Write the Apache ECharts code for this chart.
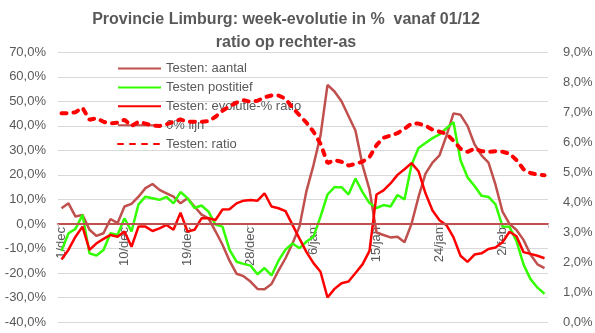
<!DOCTYPE html>
<html>
<head>
<meta charset="utf-8">
<script src="https://cdn.jsdelivr.net/npm/echarts@6/dist/echarts.min.js"></script>
<style>
html,body{margin:0;padding:0;background:#fff;}
#chart{width:595px;height:333px;}
</style>
</head>
<body>
<div id="chart"></div>
<script>
var categories = [
"1/dec","2/dec","3/dec","4/dec","5/dec","6/dec","7/dec","8/dec","9/dec","10/dec",
"11/dec","12/dec","13/dec","14/dec","15/dec","16/dec","17/dec","18/dec","19/dec","20/dec",
"21/dec","22/dec","23/dec","24/dec","25/dec","26/dec","27/dec","28/dec","29/dec","30/dec",
"31/dec","1/jan","2/jan","3/jan","4/jan","5/jan","6/jan","7/jan","8/jan","9/jan",
"10/jan","11/jan","12/jan","13/jan","14/jan","15/jan","16/jan","17/jan","18/jan","19/jan",
"20/jan","21/jan","22/jan","23/jan","24/jan","25/jan","26/jan","27/jan","28/jan","29/jan",
"30/jan","31/jan","1/feb","2/feb","3/feb","4/feb","5/feb","6/feb","7/feb","8/feb"
];
var testenAantal = [
6.4, 8.4, 3.0, 3.7, -2.4, -4.9, -3.8, 2.0, 0.3, 7.1,
8.2, 11.1, 14.6, 16.3, 13.9, 12.5, 11.1, 8.4, 10.5, 7.1,
3.8, 2.3, -3.0, -8.5, -15.0, -20.3, -21.3, -23.5, -26.5, -26.6,
-24.5, -19.0, -14.0, -8.0, -1.0, 13.5, 24.0, 36.0, 56.7, 54.0,
50.0, 44.0, 38.0, 24.0, 14.0, -3.5, -4.5, -5.5, -5.2, -7.5,
0.0, 11.0, 20.5, 25.0, 28.0, 36.0, 45.1, 44.5, 40.0, 32.5,
28.0, 25.0, 16.0, 5.0, 0.0, -2.5, -6.5, -12.5, -16.5, -18.0
];
var testenPositief = [
-11.0, -3.8, -2.0, 3.7, -12.0, -12.9, -10.6, -3.8, -4.5, 2.3,
-3.1, 8.0, 11.1, 10.5, 9.8, 11.0, 8.4, 13.0, 10.5, 6.5,
7.5, 5.0, -0.3, -1.1, -10.5, -15.4, -16.3, -17.0, -20.5, -18.0,
-21.0, -15.0, -10.5, -8.0, -9.9, -7.2, -5.2, 3.0, 12.0, 15.0,
15.0, 12.0, 18.5, 13.0, 8.5, 6.5, 7.7, 7.1, 11.8, 10.0,
24.0, 31.0, 33.0, 35.0, 36.5, 39.0, 41.5, 26.0, 19.0, 15.5,
11.5, 11.0, 8.0, -1.0, -1.2, -7.0, -16.5, -22.5, -26.0, -28.5
];
var evolutieRatio = [
-14.5, -10.5, -5.2, -1.1, -10.6, -7.9, -6.1, -4.5, -5.2, -3.1,
-9.3, -1.1, -1.1, -2.9, -1.8, -0.4, -2.4, 4.6, -3.1, -2.4,
2.3, 2.3, 1.6, 5.9, 6.0, 8.4, 9.5, 9.8, 9.5, 12.5,
7.1, 6.4, 5.2, -0.4, -6.0, -11.5, -16.0, -19.5, -30.0, -26.5,
-24.2, -23.5, -20.0, -16.5, -11.0, 12.0, 13.7, 16.5, 20.0, 22.3,
24.8, 21.5, 12.5, 5.5, 1.5, -0.5, -5.5, -13.0, -15.5, -12.5,
-12.0, -10.2, -9.6, -7.5, -3.2, -5.0, -11.5, -12.2, -13.0, -14.0
];
var nulLijn = [
0,0,0,0,0,0,0,0,0,0, 0,0,0,0,0,0,0,0,0,0, 0,0,0,0,0,0,0,0,0,0,
0,0,0,0,0,0,0,0,0,0, 0,0,0,0,0,0,0,0,0,0, 0,0,0,0,0,0,0,0,0,0,
0,0,0,0,0,0,0,0,0,0
];
var testenRatio = [
6.97, 6.97, 7.0, 7.15, 6.75, 6.8, 6.68, 6.63, 6.65, 6.75,
6.54, 6.68, 6.62, 6.55, 6.54, 6.6, 6.68, 6.76, 6.68, 6.68,
6.68, 6.7, 6.85, 7.05, 7.2, 7.32, 7.4, 7.35, 7.38, 7.5,
7.56, 7.56, 7.45, 7.15, 6.9, 6.65, 6.35, 5.95, 5.3, 5.4,
5.35, 5.22, 5.28, 5.35, 5.5, 5.9, 6.15, 6.22, 6.3, 6.45,
6.62, 6.62, 6.55, 6.42, 6.35, 6.28, 6.05, 5.78, 5.68, 5.78,
5.7, 5.68, 5.7, 5.68, 5.62, 5.4, 5.1, 4.97, 4.92, 4.9
];
var seriesNames = ["Testen: aantal","Testen postitief","Testen: evolutie-% ratio","0% lijn","Testen: ratio"];
var titleLines = ["Provincie Limburg: week-evolutie in %  vanaf 01/12", "ratio op rechter-as"];

var FONT = "Liberation Sans, Arial, sans-serif";
var TXT = "#595959";
function pct(v){ return v.toFixed(1).replace(".", ",") + "%"; }

var GRID_TOP = 52.3, GRID_BOTTOM = 11, H = 333;
var leftMin = -40, leftMax = 70;
var plotH = H - GRID_TOP - GRID_BOTTOM;
// distance from the bottom edge of the plot to the 0-value of the left axis
var zeroOffset = plotH * (0 - leftMin) / (leftMax - leftMin);

var chart = echarts.init(document.getElementById("chart"), null, {renderer:"canvas"});
chart.setOption({
  animation:false,
  backgroundColor:"#ffffff",
  graphic:[
    {type:"text",x:286,y:20,silent:true,
     style:{text:titleLines[0],x:0,y:0,align:"center",verticalAlign:"middle",
            font:"bold 16px " + FONT,fill:TXT}},
    {type:"text",x:286,y:43,silent:true,
     style:{text:titleLines[1],x:0,y:0,align:"center",verticalAlign:"middle",
            font:"bold 16px " + FONT,fill:TXT}}
  ],
  legend:{
    orient:"vertical",
    left:117,
    top:61.5,
    padding:0,
    z:1,
    itemWidth:43,
    itemHeight:14,
    itemGap:4.9,
    data:seriesNames,
    itemStyle:{opacity:0},
    textStyle:{fontFamily:FONT,fontSize:13,color:TXT,lineHeight:14}
  },
  grid:{left:58,right:47,top:GRID_TOP,bottom:GRID_BOTTOM,containLabel:false,outerBoundsMode:"none"},
  xAxis:{
    type:"category",
    data:categories,
    boundaryGap:true,
    position:"bottom",
    offset:-zeroOffset,
    axisLine:{onZero:false,lineStyle:{color:"#C0504D",width:2}},
    axisTick:{show:true,interval:8,length:4,lineStyle:{color:"#BFBFBF"}},
    axisLabel:{interval:8,rotate:90,margin:3,fontFamily:FONT,fontSize:13,color:TXT},
    splitLine:{show:false}
  },
  yAxis:[
    {type:"value",min:leftMin,max:leftMax,interval:10,
     axisLine:{show:false},axisTick:{show:false},
     axisLabel:{formatter:pct,fontFamily:FONT,fontSize:13,color:TXT,margin:12},
     splitLine:{show:true,lineStyle:{color:"#D9D9D9",width:1}}},
    {type:"value",min:0,max:9,interval:1,position:"right",
     axisLine:{show:false},axisTick:{show:false},
     axisLabel:{formatter:pct,fontFamily:FONT,fontSize:13,color:TXT,margin:15},
     splitLine:{show:false}}
  ],
  series:[
    {name:seriesNames[0],type:"line",data:testenAantal,yAxisIndex:0,symbol:"none",
     lineStyle:{color:"#C0504D",width:2.5},itemStyle:{color:"#C0504D"}},
    {name:seriesNames[1],type:"line",data:testenPositief,yAxisIndex:0,symbol:"none",
     lineStyle:{color:"#33FF00",width:2.5},itemStyle:{color:"#33FF00"}},
    {name:seriesNames[2],type:"line",data:evolutieRatio,yAxisIndex:0,symbol:"none",
     lineStyle:{color:"#FF0000",width:2.5},itemStyle:{color:"#FF0000"}},
    {name:seriesNames[3],type:"line",data:nulLijn,yAxisIndex:0,symbol:"none",
     lineStyle:{color:"#C0504D",width:2},itemStyle:{color:"#C0504D"}},
    {name:seriesNames[4],type:"line",data:testenRatio,yAxisIndex:1,symbol:"none",
     lineStyle:{color:"#FF0000",width:4,type:[5,7],cap:"round"},itemStyle:{color:"#FF0000"}}
  ]
});
</script>
</body>
</html>
